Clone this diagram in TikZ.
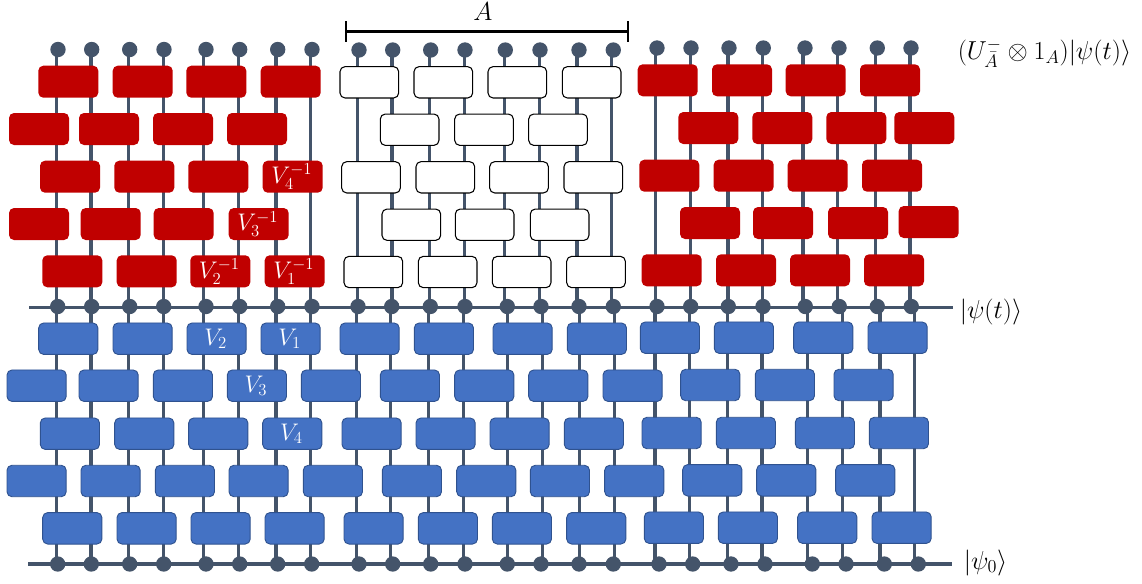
\RequirePackage{fix-cm}
\documentclass[tikz,border=0pt]{standalone}
\definecolor{wirecol}{HTML}{44546A}
\definecolor{redcol}{HTML}{C00000}
\definecolor{bluecol}{HTML}{4472C4}
\definecolor{blueline}{HTML}{2F528F}
\tikzset{
	wire/.style={color=wirecol,line width=2.4pt},
	bracket/.style={color=black,line width=2.1pt},
	dot/.style={circle,fill=wirecol,inner sep=0pt,minimum size=11.5pt},
	gate/.style={rectangle,rounded corners=3.75pt,inner sep=0pt,outer sep=0pt,anchor=west,minimum height=24pt},
	redgate/.style={gate,fill=redcol,minimum width=45pt},
	whitegate/.style={gate,fill=white,draw=black,line width=0.8pt,minimum width=44pt,minimum height=23.5pt},
	bluegate/.style={gate,fill=bluecol,draw=blueline,line width=0.7pt,minimum width=44.4pt,minimum height=23.6pt},
	gatelabel/.style={text=white,inner sep=0pt,xshift=-0.7pt,font=\fontsize{18}{22}\selectfont},
	statelabel/.style={anchor=west,inner sep=0pt,font=\fontsize{19.5}{23}\selectfont}
}
\begin{document}
\begin{tikzpicture}[x=0.75pt,y=-0.75pt,line join=round]
	\useasboundingbox (0,0) rectangle (1142,583);
	\def\ymid{306.5} \def\ybot{564}
	% dots and wires
	\foreach \i/\tx/\ux/\mx/\lx/\bx/\ty in {
		1/58/56.3/57.7/56.3/57.7/49.5, 2/91.7/91/91.7/91/91.3/49.5,
		3/129.7/128.3/129.7/128.3/129.7/49.5, 4/164/163.3/163.7/163.3/163.7/49.5,
		5/206/203.7/206/203.7/206/49.5, 6/239.7/238.3/239.7/238.3/239.7/49.5,
		7/277.7/276/277.7/276/277.7/49.5, 8/312/310.7/312/310.7/311.7/49.5,
		9/359/357.3/358/356.7/359/50, 10/392.7/392/391.7/390.7/392.7/50,
		11/430.7/429.7/430.3/428.7/430.7/50, 12/465/464.3/465/463.3/465/50,
		13/505.3/504.7/507.3/507.3/507.3/50, 14/540/539.3/541/542.3/541/50,
		15/579/577/579/579.7/579/50, 16/613.3/611.7/613.3/614.3/613.3/50,
		17/657/655.7/657/655/659/48, 18/691/690.3/690.7/689.7/692.7/48,
		19/729/728/728.3/727.3/731/48, 20/763.3/762.7/763/762/765/48,
		21/805/803/805.3/807.7/812.3/48, 22/839/837.7/839.3/842.3/846/48,
		23/877.3/875.3/877.3/880/884.3/48, 24/911/910/911.3/914.3/918.3/48}{
		\node[dot] (t\i) at (\tx,\ty) {};
		\node[dot] (m\i) at (\mx,\ymid) {};
		\node[dot] (b\i) at (\bx,\ybot) {};
		\coordinate (u\i) at (\ux,0);
		\coordinate (l\i) at (\lx,0);
		\draw[wire] (u\i |- t\i) -- (u\i |- m\i);
		\draw[wire] (l\i |- m\i) -- (l\i |- b\i);
	}
	\coordinate (psitl) at (29.3,307.3); \coordinate (psitr) at (953,307.3);
	\coordinate (psi0l) at (28,564); \coordinate (psi0r) at (951.7,564);
	\draw[wire] (psitl)--(psitr);
	\draw[wire] (psi0l)--(psi0r);
	% red gates, left
	\foreach \y/\xs [count=\r] in {81.7/{38.3,112.7,186.3,260.7},129/{9,79,153,227},
		176.7/{40,114.3,188.3,262.7},224/{9,80.7,153.7,228.7},271.3/{42.3,116.7,190.3,264.7}}
		\foreach \x [count=\c] in \xs
			\node[redgate] (rl\r\c) at (\x,\y) {};
	% white gates
	\foreach \y/\xs [count=\r] in {82.3/{340,414,488,562.3},129.7/{380.3,454.7,528.7},
		177.3/{341.7,416,489.7,564},224.7/{382,455.3,530.3},272/{344,418.3,492.3,566.7}}
		\foreach \x [count=\c] in \xs
			\node[whitegate] (wh\r\c) at (\x,\y) {};
	% red gates, right
	\foreach \y/\xs [count=\r] in {80.3/{637.7,712,785.7,860},128/{678.3,752.3,826.3,894.3},
		175.7/{639.3,713.7,787.7,862},223/{680,753,828},270.3/{641.7,716,790,864}}
		\foreach \x [count=\c] in \xs
			\node[redgate] (rr\r\c) at (\x,\y) {};
	\node[redgate] (rr44) at (898.7,222) {};
	% blue gates
	\foreach \y/\xs [count=\r] in {338.7/{38.7,113,187,261,340,414.3,493,567.3},
		385.7/{7,79,153.3,227.3,301.3,380.3,454.7,528.7,603},
		433.7/{40.3,114.7,188.7,262.7,342,416,490,564.3},
		481/{7,81,155.3,229,303.3,382.3,456.7,530.3,604.7},
		528.3/{42.7,117,191,265,344,418.3,492.3,566.7}}
		\foreach \x [count=\c] in \xs
			\node[bluegate] (bl\r\c) at (\x,\y) {};
	\foreach \y/\xs [count=\r] in {337.7/{640.3,714.3,793.7,868},385/{680.7,755.3,834},
		433/{642,716.3,795.3,869.3},480.3/{682.7,756.7,835.7},527.7/{644.3,718.3,797.7,872}}
		\foreach \x [count=\c] in \xs
			\node[bluegate] (br\r\c) at (\x,\y) {};
	% gate labels
	\node[gatelabel] (inv4) at (rl34) {$V_4^{-1}$};
	\node[gatelabel] (inv3) at (rl44) {$V_3^{-1}$};
	\node[gatelabel] (inv2) at (rl53) {$V_2^{-1}$};
	\node[gatelabel] (inv1) at (rl54) {$V_1^{-1}$};
	\node[gatelabel] (v2) at (bl13) {$V_2$};
	\node[gatelabel] (v1) at (bl14) {$V_1$};
	\node[gatelabel] (v3) at (bl24) {$V_3$};
	\node[gatelabel] (v4) at (bl34) {$V_4$};
	% region A
	\coordinate (al) at (346,31.7); \coordinate (ar) at (628,31.7);
	\draw[bracket] (al)--(ar);
	\draw[bracket] ([yshift=8pt]al)--([yshift=-7.5pt]al);
	\draw[bracket] ([yshift=8pt]ar)--([yshift=-7.5pt]ar);
	\node[inner sep=0pt,font=\fontsize{19.5}{23}\selectfont] (labA) at (483,12) {$A$};
	% state labels
	\node[statelabel] (labU) at (957.5,53) {$(U_{\bar A}^{-}\otimes 1_A)|\psi(t)\rangle$};
	\node[statelabel] (labt) at (959.5,312) {$|\psi(t)\rangle$};
	\node[statelabel] (lab0) at (963.5,562.5) {$|\psi_0\rangle$};
\end{tikzpicture}
\end{document}
